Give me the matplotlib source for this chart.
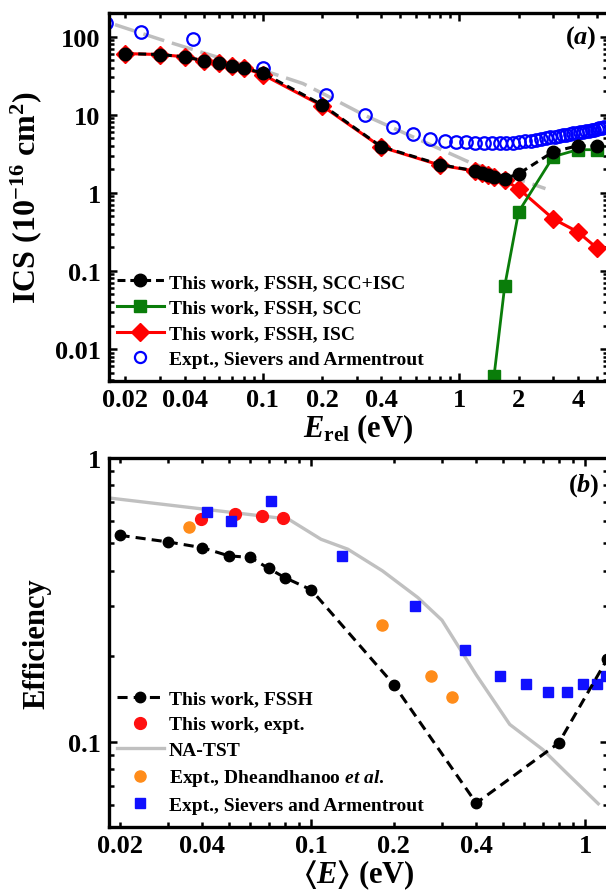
import numpy as np
import matplotlib
matplotlib.use("Agg")
import matplotlib.pyplot as plt
from matplotlib.ticker import LogLocator, FuncFormatter

plt.rcParams['font.family'] = ['Liberation Serif', 'DejaVu Serif']
plt.rcParams['font.weight'] = 'bold'
plt.rcParams['axes.labelweight'] = 'bold'
plt.rcParams['mathtext.fontset'] = 'custom'
plt.rcParams['mathtext.rm'] = 'Liberation Serif:bold'
plt.rcParams['mathtext.it'] = 'Liberation Serif:bold:italic'
plt.rcParams['mathtext.bf'] = 'Liberation Serif:bold'
plt.rcParams['mathtext.fallback'] = 'stix'

# ---- panel (a): ICS vs E_rel ----
e_tot = [0.02, 0.03, 0.04, 0.05, 0.06, 0.07, 0.08, 0.1, 0.2, 0.4, 0.8, 1.2, 1.3, 1.4, 1.5, 1.7, 2.0, 3.0, 4.0, 5.0]
ics_tot = [60.5, 58.8, 55, 49, 46, 42, 39.7, 34, 13.4, 3.9, 2.29, 1.91, 1.80, 1.70, 1.60, 1.52, 1.75, 3.35, 4.0, 3.95]
e_isc = [0.02, 0.03, 0.04, 0.05, 0.06, 0.07, 0.08, 0.1, 0.2, 0.4, 0.8, 1.2, 1.3, 1.4, 1.5, 1.7, 2.0, 3.0, 4.0, 5.0]
ics_isc = [60.5, 58.8, 55, 49, 46, 42, 39.7, 32.5, 13.0, 3.85, 2.25, 1.9, 1.78, 1.68, 1.58, 1.45, 1.13, 0.464, 0.316, 0.197]
e_scc = [1.5, 1.7, 2.0, 3.0, 4.0, 5.0]
ics_scc = [0.0045, 0.064, 0.57, 2.9, 3.56, 3.56]
e_sa = [0.016, 0.024, 0.044, 0.10, 0.21, 0.33, 0.46, 0.58, 0.71, 0.84, 0.96, 1.08, 1.20, 1.33, 1.47,
        1.60, 1.73, 1.87, 2.00, 2.15, 2.30, 2.45, 2.60, 2.75, 2.90, 3.05, 3.20, 3.35, 3.50, 3.65,
        3.80, 3.95, 4.10, 4.25, 4.40, 4.55, 4.70, 4.85, 5.00, 5.15, 5.30, 5.45]
ics_sa = [148, 113, 94, 39, 18, 10, 7.0, 5.7, 4.9, 4.6, 4.5, 4.45, 4.4, 4.35, 4.3,
          4.3, 4.3, 4.35, 4.45, 4.55, 4.65, 4.8, 4.95, 5.05, 5.15, 5.25, 5.35, 5.45, 5.55, 5.65,
          5.75, 5.85, 5.95, 6.05, 6.15, 6.25, 6.35, 6.45, 6.55, 6.65, 6.75, 6.9]
e_gray_a = [0.0177, 0.03, 0.058, 0.1, 0.16, 0.21, 0.33, 0.58, 1.12, 2.74]
ics_gray_a = [142, 92, 55, 37, 25, 17.7, 9.8, 5.2, 2.47, 1.13]
xa_ticks = [0.02, 0.04, 0.1, 0.2, 0.4, 1, 2, 4]
xa_labels = ['0.02', '0.04', '0.1', '0.2', '0.4', '1', '2', '4']
ya_ticks = [0.01, 0.1, 1, 10, 100]
ya_labels = ['0.01', '0.1', '1', '10', '100']

# ---- panel (b): efficiency vs <E> ----
e_fssh = [0.02, 0.03, 0.04, 0.05, 0.06, 0.07, 0.08, 0.1, 0.2, 0.4, 0.8, 1.2]
eff_fssh = [0.534, 0.506, 0.483, 0.452, 0.446, 0.408, 0.379, 0.343, 0.159, 0.0607, 0.0989, 0.195]
e_tw = [0.0397, 0.0528, 0.066, 0.0788]
eff_tw = [0.609, 0.634, 0.622, 0.614]
e_dh = [0.0357, 0.182, 0.273, 0.327]
eff_dh = [0.572, 0.258, 0.171, 0.1435]
e_sb = [0.0418, 0.0509, 0.0713, 0.130, 0.239, 0.364, 0.488, 0.607, 0.733, 0.855, 0.978, 1.10, 1.19]
eff_sb = [0.643, 0.60, 0.703, 0.452, 0.301, 0.210, 0.170, 0.160, 0.150, 0.150, 0.160, 0.160, 0.170]
e_tst = [0.0185, 0.0826, 0.1086, 0.136, 0.182, 0.245, 0.30, 0.40, 0.53, 0.70, 0.855, 1.115]
eff_tst = [0.722, 0.609, 0.517, 0.477, 0.40, 0.322, 0.268, 0.172, 0.115, 0.0937, 0.0775, 0.0604]
xb_ticks = [0.02, 0.04, 0.1, 0.2, 0.4, 1]
xb_labels = ['0.02', '0.04', '0.1', '0.2', '0.4', '1']
yb_ticks = [0.1, 1]
yb_labels = ['0.1', '1']


def make_fmt(ticks, labels):
    def f(v, pos):
        for t, l in zip(ticks, labels):
            if abs(v / t - 1) < 1e-6:
                return l
        return ''
    return FuncFormatter(f)


def style_axis(ax, xt, xl, yt, yl):
    ax.set_xscale('log')
    ax.set_yscale('log')
    for a, t, l in ((ax.xaxis, xt, xl), (ax.yaxis, yt, yl)):
        a.set_major_locator(LogLocator(base=10, numticks=20))
        a.set_minor_locator(LogLocator(base=10, subs=np.arange(2, 10), numticks=20))
        a.set_major_formatter(make_fmt(t, l))
        a.set_minor_formatter(make_fmt(t, l))
    ax.tick_params(which='both', direction='in', top=True, right=True, width=1.8, labelsize=19)
    ax.tick_params(which='major', length=6)
    ax.tick_params(which='minor', length=3.6)
    ax.tick_params(axis='x', which='both', pad=5)
    ax.tick_params(axis='y', which='both', pad=6)
    for s in ax.spines.values():
        s.set_linewidth(2.4)


fig = plt.figure(figsize=(6.06, 8.95), dpi=100)
W, H = 606.0, 895.0
ax1 = fig.add_axes([109 / W, 1 - 382 / H, 499 / W, 368 / H])
ax2 = fig.add_axes([109 / W, 1 - 828 / H, 499 / W, 369 / H])

# panel (a)
ax1.plot(e_gray_a, ics_gray_a, color='#BEBEBE', lw=2.5, dashes=(6.3, 2.3), zorder=1)
ax1.plot(e_isc, ics_isc, color='red', lw=2.2, marker='D', ms=9, zorder=2)
ax1.plot(e_scc, ics_scc, color='#0A7D0A', lw=2.0, marker='s', ms=8, zorder=2)
ax1.plot(e_tot, ics_tot, color='black', lw=2.2, dashes=(2.6, 1.6), marker='o', ms=9, zorder=3)
ax1.plot(e_sa, ics_sa, ls='none', marker='o', ms=9, mfc='none', mec='blue', mew=1.6, zorder=2)
ax1.set_xlim(0.0165, 5.7)
ax1.set_ylim(0.0039, 200)
style_axis(ax1, xa_ticks, xa_labels, ya_ticks, ya_labels)
ax1.set_xlabel(r'$E_{\mathrm{rel}}$ (eV)', fontsize=22, labelpad=0)
ax1.set_ylabel(r'ICS (10$^{-16}$ cm$^{2}$)', fontsize=23, labelpad=8)
ax1.text(0.946, 0.935, r'($a$)', transform=ax1.transAxes, fontsize=19, ha='center', va='center')

h = [
    plt.Line2D([], [], color='black', lw=2.2, dashes=(2.6, 1.6), marker='o', ms=9),
    plt.Line2D([], [], color='#0A7D0A', lw=2.2, marker='s', ms=8),
    plt.Line2D([], [], color='red', lw=2.2, marker='D', ms=9),
    plt.Line2D([], [], ls='none', marker='o', ms=8, mfc='none', mec='blue', mew=1.6),
]
ax1.legend(h, ['This work, FSSH, SCC+ISC', 'This work, FSSH, SCC', 'This work, FSSH, ISC',
               'Expt., Sievers and Armentrout'],
           loc='lower left', bbox_to_anchor=(0.016, 0.035), frameon=False, fontsize=14,
           borderpad=0, borderaxespad=0, handlelength=2.4, handletextpad=0.25, labelspacing=0.42)

# panel (b)
ax2.plot(e_tst, eff_tst, color='#C0C0C0', lw=2.4, zorder=1)
ax2.plot(e_fssh, eff_fssh, color='black', lw=2.2, dashes=(3.3, 2.0), marker='o', ms=7.5, zorder=3)
ax2.plot(e_tw, eff_tw, ls='none', marker='o', ms=8.5, color='#FF1010', zorder=2)
ax2.plot(e_dh, eff_dh, ls='none', marker='o', ms=8, color='#FF8C1A', zorder=2)
ax2.plot(e_sb, eff_sb, ls='none', marker='s', ms=7.5, color='#1010FF', zorder=2)
ax2.set_xlim(0.0183, 1.21)
ax2.set_ylim(0.05, 1)
style_axis(ax2, xb_ticks, xb_labels, yb_ticks, yb_labels)
ax2.set_xlabel(r'$\langle E\rangle$ (eV)', fontsize=22, labelpad=0)
ax2.set_ylabel('Efficiency', fontsize=22, labelpad=12)
ax2.text(0.952, 0.927, r'($b$)', transform=ax2.transAxes, fontsize=19, ha='center', va='center')

h2 = [
    plt.Line2D([], [], color='black', lw=2.2, dashes=(3.3, 2.0), marker='o', ms=7.5),
    plt.Line2D([], [], ls='none', marker='o', ms=8.5, color='#FF1010'),
    plt.Line2D([], [], color='#C0C0C0', lw=2.4),
    plt.Line2D([], [], ls='none', marker='o', ms=8, color='#FF8C1A'),
    plt.Line2D([], [], ls='none', marker='s', ms=7.5, color='#1010FF'),
]
ax2.legend(h2, ['This work, FSSH', 'This work, expt.', 'NA-TST',
                r'Expt., Dheandhanoo $et\ al.$', 'Expt., Sievers and Armentrout'],
           loc='lower left', bbox_to_anchor=(0.016, 0.035), frameon=False, fontsize=14,
           borderpad=0, borderaxespad=0, handlelength=2.4, handletextpad=0.25, labelspacing=0.42)

fig.savefig('out.png', dpi=100)
